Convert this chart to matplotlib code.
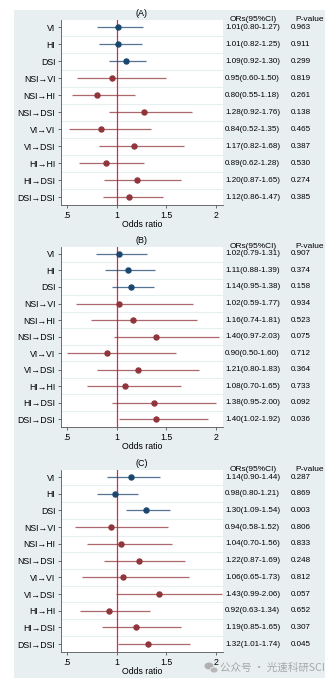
import matplotlib
matplotlib.use("Agg")
import matplotlib.pyplot as plt
import matplotlib.transforms as mtransforms
from matplotlib.patches import Rectangle, Ellipse

plt.rcParams['font.family'] = ['Liberation Sans', 'DejaVu Sans']

labels = ["VI", "HI", "DSI", "NSI→VI", "NSI→HI", "NSI→DSI",
          "VI→VI", "VI→DSI", "HI→HI", "HI→DSI", "DSI→DSI"]
panel_titles = ["(A)", "(B)", "(C)"]

or_a = [1.01, 1.01, 1.09, 0.95, 0.80, 1.28, 0.84, 1.17, 0.89, 1.20, 1.12]
lo_a = [0.80, 0.82, 0.92, 0.60, 0.55, 0.92, 0.52, 0.82, 0.62, 0.87, 0.86]
hi_a = [1.27, 1.25, 1.30, 1.50, 1.18, 1.76, 1.35, 1.68, 1.28, 1.65, 1.47]
p_a = ["0.963", "0.911", "0.299", "0.819", "0.261", "0.138",
       "0.465", "0.387", "0.530", "0.274", "0.385"]

or_b = [1.02, 1.11, 1.14, 1.02, 1.16, 1.40, 0.90, 1.21, 1.08, 1.38, 1.40]
lo_b = [0.79, 0.88, 0.95, 0.59, 0.74, 0.97, 0.50, 0.80, 0.70, 0.95, 1.02]
hi_b = [1.31, 1.39, 1.38, 1.77, 1.81, 2.03, 1.60, 1.83, 1.65, 2.00, 1.92]
p_b = ["0.907", "0.374", "0.158", "0.934", "0.523", "0.075",
       "0.712", "0.364", "0.733", "0.092", "0.036"]

or_c = [1.14, 0.98, 1.30, 0.94, 1.04, 1.22, 1.06, 1.43, 0.92, 1.19, 1.32]
lo_c = [0.90, 0.80, 1.09, 0.58, 0.70, 0.87, 0.65, 0.99, 0.63, 0.85, 1.01]
hi_c = [1.44, 1.21, 1.54, 1.52, 1.56, 1.69, 1.73, 2.06, 1.34, 1.65, 1.74]
p_c = ["0.287", "0.869", "0.003", "0.806", "0.833", "0.248",
       "0.812", "0.057", "0.652", "0.307", "0.045"]

panels = [(or_a, lo_a, hi_a, p_a), (or_b, lo_b, hi_b, p_b), (or_c, lo_c, hi_c, p_c)]

W, H = 336, 686
fig = plt.figure(figsize=(W / 100, H / 100), dpi=100)
fig.patch.set_facecolor("white")

bg = "#e8eff1"
navy = "#1a476f"
maroon = "#90353b"
refcol = "#d9294f"
axcol = "#555555"

# panel background
fig.patches.append(Rectangle((14 / W, 1 - 678 / H), (325 - 14) / W, (678 - 10) / H,
                             transform=fig.transFigure, facecolor=bg, edgecolor="none", zorder=-5))

tops = [20, 247, 470]
bottoms = [205, 427, 652]
x0, x1 = 61, 223

for k, (ors, los, his, ps) in enumerate(panels):
    top, bot = tops[k], bottoms[k]
    ax = fig.add_axes([x0 / W, 1 - bot / H, (x1 - x0) / W, (bot - top) / H])
    ax.set_facecolor("white")
    n = len(labels)
    ys = list(range(n))
    for i in ys:
        c = navy if i < 3 else maroon
        ax.plot([los[i], his[i]], [i, i], color=c, lw=0.9, alpha=0.75,
                solid_capstyle="butt", zorder=3)
        ax.plot(ors[i], i, "o", color=c, ms=3.6, zorder=4)
    for i in range(n - 1):
        ax.axhline(i + 0.5, color=bg, lw=0.8, zorder=1)
    ax.axvline(1, color=refcol, lw=0.9, zorder=2)

    ax.set_xlim(0.44, 2.07)
    ax.set_ylim(n - 1 + 0.47, -0.42)
    ax.set_yticks(ys)
    ax.set_yticklabels(labels, fontsize=6.3)
    ax.set_xticks([0.5, 1, 1.5, 2])
    ax.set_xticklabels([".5", "1", "1.5", "2"], fontsize=6.3)
    ax.set_xlabel("Odds ratio", fontsize=6.3, labelpad=0.5)
    ax.set_title(panel_titles[k], fontsize=6.5, pad=3)
    for s in ["top", "right"]:
        ax.spines[s].set_visible(False)
    for s in ["left", "bottom"]:
        ax.spines[s].set_color(axcol)
        ax.spines[s].set_linewidth(0.6)
    ax.tick_params(axis="both", length=2.5, width=0.6, color=axcol, pad=1.5)

    tr = mtransforms.blended_transform_factory(fig.transFigure, ax.transData)
    ax.text(230 / W, -0.45, "ORs(95%CI)", transform=tr, fontsize=6, va="center", ha="left")
    ax.text(295 / W, -0.45, "P-value", transform=tr, fontsize=6, va="center", ha="left")
    for i in ys:
        ax.text(225 / W, i, f"{ors[i]:.2f}({los[i]:.2f}-{his[i]:.2f})", transform=tr,
                fontsize=5.8, va="center", ha="left")
        ax.text(291 / W, i, ps[i], transform=tr, fontsize=5.8, va="center", ha="left")

# watermark
fig.text(220 / W, 1 - 668 / H, "公众号 · 光速科研SCI", fontsize=7.6, color="#a8a8a8",
         va="center", ha="left", family=["Noto Sans CJK SC", "DejaVu Sans"])
fig.patches.append(Ellipse((209 / W, 1 - 666 / H), 9 / W, 7 / H, transform=fig.transFigure,
                           facecolor="#b0b0b0", edgecolor="none"))
fig.patches.append(Ellipse((214 / W, 1 - 670 / H), 8 / W, 6 / H, transform=fig.transFigure,
                           facecolor="#b8b8b8", edgecolor=bg, lw=0.6))

fig.savefig("out.png", dpi=100)
